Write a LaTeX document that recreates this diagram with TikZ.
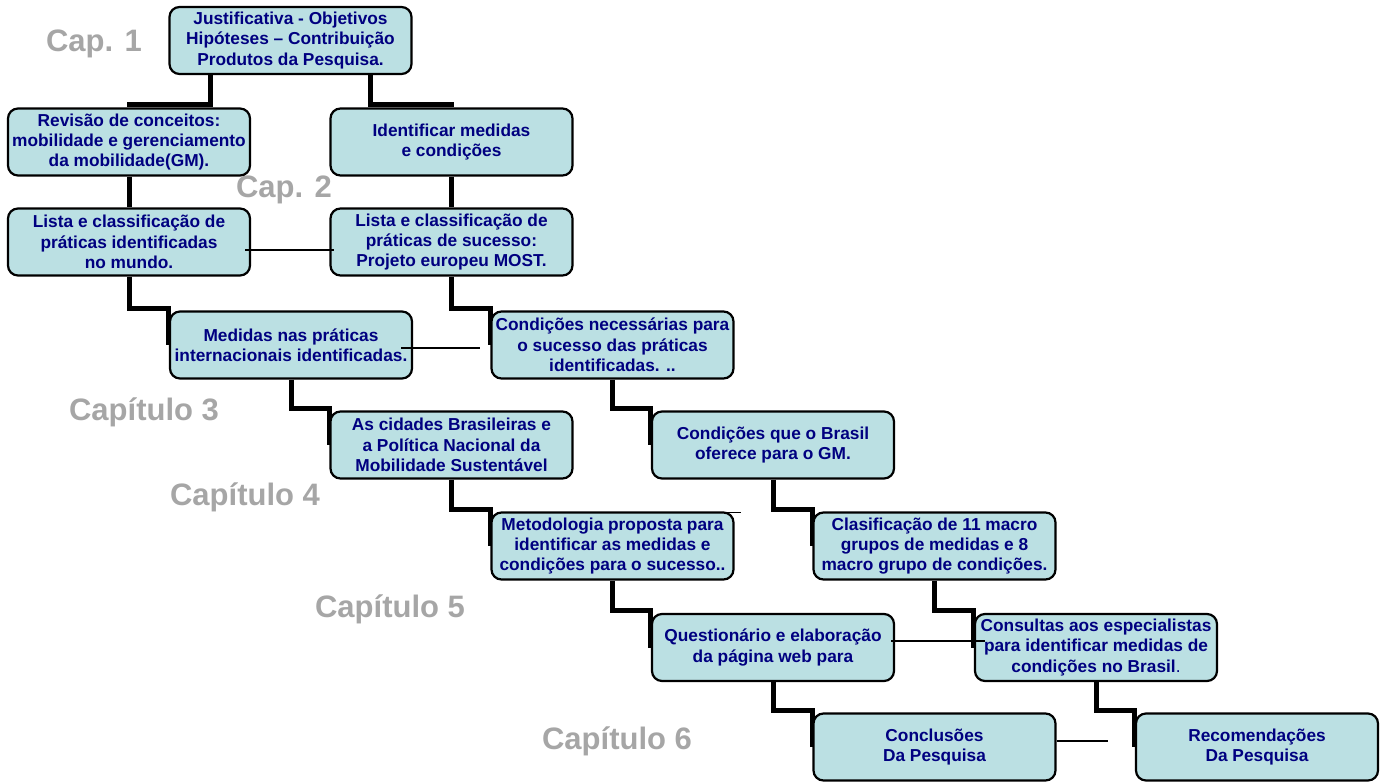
\documentclass[tikz,border=0pt]{standalone}
\usepackage{fontspec}
\setmainfont{Liberation Sans}
\usetikzlibrary{backgrounds}
\definecolor{boxfill}{RGB}{187,224,227}
\definecolor{boxtext}{RGB}{0,0,128}
\definecolor{capgray}{RGB}{166,166,166}

\begin{document}
\begin{tikzpicture}[x=1pt,y=-1pt,
	box/.style={draw, rounded corners=10pt, line width=2.2pt, fill=boxfill, text=boxtext,
		font=\fontsize{17.3}{20.3}\selectfont\bfseries, align=center,
		minimum width=242pt, minimum height=67pt, inner sep=1pt},
	chap/.style={text=capgray, font=\fontsize{31}{35}\selectfont\bfseries},
	link/.style={line width=5pt},
	thinlink/.style={line width=1.5pt}]
			\useasboundingbox (0,0) rectangle (1388,781);
			% chapter labels
			\node	(cap1) at (94,44) [chap] {Cap. 1};
			\node	(cap2) at (284,190) [chap] {Cap. 2};
			\node	(cap3) at (144,412) [chap] {Capítulo 3};
			\node	(cap4) at (245,497) [chap] {Capítulo 4};
			\node	(cap5) at (390,609) [chap] {Capítulo 5};
			\node	(cap6) at (617,741) [chap] {Capítulo 6};
			% boxes
			\node	(just) at (290.5,40.5) [box] {Justificativa - Objetivos\\Hipóteses – Contribuição\\Produtos da Pesquisa.};
			\node	(rev) at (129,142) [box] {Revisão de conceitos:\\mobilidade e gerenciamento\\da mobilidade(GM).};
			\node	(ident) at (451.5,142) [box] {Identificar medidas\\e condições};
			\node	(listw) at (129,242) [box] {Lista e classificação de\\práticas identificadas\\no mundo.};
			\node	(listm) at (451.5,242) [box] {Lista e classificação de\\práticas de sucesso:\\Projeto europeu MOST.};
			\node	(med) at (291,345) [box] {Medidas nas práticas\\internacionais identificadas.};
			\node	(cond) at (612.5,345) [box] {Condições necessárias para\\o sucesso das práticas\\identificadas. ..};
			\node	(cid) at (451.5,445) [box] {As cidades Brasileiras e\\a Política Nacional da\\Mobilidade Sustentável};
			\node	(bras) at (773,445) [box] {Condições que o Brasil\\oferece para o GM.};
			\node	(metod) at (612.5,546) [box] {Metodologia proposta para\\identificar as medidas e\\condições para o sucesso..};
			\node	(clas) at (934.5,546) [box] {Clasificação de 11 macro\\grupos de medidas e 8\\macro grupo de condições.};
			\node	(quest) at (773,647.5) [box] {Questionário e elaboração\\da página web para};
			\node	(cons) at (1096,647.5) [box] {Consultas aos especialistas\\para identificar medidas de\\condições no Brasil{\mdseries .}};
			\node	(concl) at (934.5,747) [box] {Conclusões\\Da Pesquisa};
			\node	(recom) at (1257,747) [box] {Recomendações\\Da Pesquisa};
			% thick connectors behind the boxes
			\begin{scope}[on background layer]
			\draw[link]
			([xshift=-80pt]just.south) |- ([yshift=3pt]rev.north) -- (rev.north)
			([xshift=80pt]just.south) |- ([yshift=3pt]ident.north) -- (ident.north)
			(rev.south) -- (listw.north)
			(ident.south) -- (listm.north)
			(listw.south) |- ([yshift=2pt]med.north west) -- (med.west)
			(listm.south) |- ([yshift=2pt]cond.north west) -- (cond.west)
			(med.south) |- ([yshift=2pt]cid.north west) -- (cid.west)
			(cond.south) |- ([yshift=2pt]bras.north west) -- (bras.west)
			(cid.south) |- ([yshift=2pt]metod.north west) -- (metod.west)
			(bras.south) |- ([yshift=2pt]clas.north west) -- (clas.west)
			(metod.south) |- ([yshift=2pt]quest.north west) -- (quest.west)
			(clas.south) |- ([yshift=2pt]cons.north west) -- (cons.west)
			(quest.south) |- ([yshift=2pt]concl.north west) -- (concl.west)
			(cons.south) |- ([yshift=2pt]recom.north west) -- (recom.west)
			;
			\end{scope}
			% thin lines
			\draw[thinlink]
			([shift={(-6pt,-8pt)}]listw.east) -- ([shift={(5pt,-8pt)}]listm.west)
			([shift={(-12pt,-3pt)}]med.east) -- ([shift={(-10pt,-3pt)}]cond.west)
			([shift={(-77pt,-1pt)}]metod.north east) -- ([shift={(6pt,-1pt)}]metod.north east)
			([shift={(-4pt,6.5pt)}]quest.east) -- ([shift={(11pt,6.5pt)}]cons.west)
			([yshift=6pt]concl.east) -- ++(51,0)
			;
		\end{tikzpicture}
\end{document}
